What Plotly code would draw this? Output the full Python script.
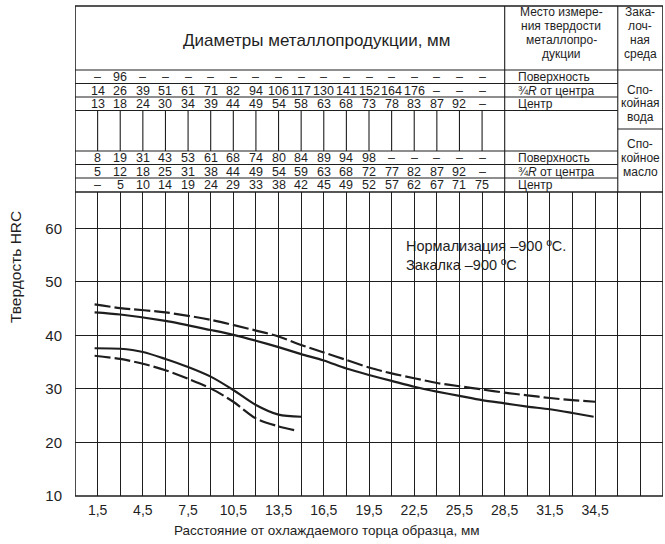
import plotly.graph_objects as go

# ---------------- data ----------------
# upper band (dashed = upper limit, solid = lower limit)
up_dash_x = [1.3, 3.0, 6.0, 9.0, 12.0, 13.5, 15.0, 16.5, 18.0, 19.5, 21.0, 22.5, 24.0, 25.5, 27.0, 28.5, 30.0, 31.5, 33.0, 34.5]
up_dash_y = [45.8, 45.1, 44.3, 42.9, 40.9, 39.8, 38.2, 36.8, 35.4, 34.0, 32.9, 32.0, 31.1, 30.5, 29.9, 29.3, 28.8, 28.3, 27.9, 27.6]
up_sol_x = [1.3, 3.0, 6.0, 9.0, 10.5, 12.0, 13.5, 15.0, 16.5, 18.0, 19.5, 21.0, 22.5, 24.0, 25.5, 27.0, 28.5, 30.0, 31.5, 33.0, 34.4]
up_sol_y = [44.3, 43.9, 42.7, 41.0, 40.1, 39.0, 37.8, 36.5, 35.3, 33.8, 32.6, 31.5, 30.4, 29.5, 28.7, 27.9, 27.3, 26.7, 26.2, 25.5, 24.8]
# lower band
lo_sol_x = [1.3, 3.0, 4.5, 6.0, 7.5, 9.0, 10.5, 12.0, 13.5, 15.0]
lo_sol_y = [37.6, 37.5, 36.9, 35.6, 34.1, 32.3, 29.8, 27.0, 25.2, 24.8]
lo_dash_x = [1.3, 3.0, 4.5, 6.0, 7.5, 9.0, 10.5, 12.0, 13.5, 14.7]
lo_dash_y = [36.2, 35.6, 34.7, 33.5, 31.9, 30.1, 27.6, 24.5, 23.0, 22.2]

# table of diameters (mm), one entry per 1.5 mm column
water_surface = ['–', '96'] + ['–'] * 16
water_34r = ['14', '26', '39', '51', '61', '71', '82', '94', '106', '117', '130', '141', '152', '164', '176', '–', '–', '–']
water_center = ['13', '18', '24', '30', '34', '39', '44', '49', '54', '58', '63', '68', '73', '78', '83', '87', '92', '–']
oil_surface = ['8', '19', '31', '43', '53', '61', '68', '74', '80', '84', '89', '94', '98', '–', '–', '–', '–', '–']
oil_34r = ['5', '12', '18', '25', '31', '38', '44', '49', '54', '59', '63', '68', '72', '77', '82', '87', '92', '–']
oil_center = ['–', '5', '10', '14', '19', '24', '29', '33', '38', '42', '45', '49', '52', '57', '62', '67', '71', '75']

place_labels = ['Поверхность', '¾<i>R</i> от центра', 'Центр']
place_header = ['Место измере-', 'ния твердости', 'металлопро-', 'дукции']
media_header = ['Зака-', 'лоч-', 'ная', 'среда']
media_water = ['Спо-', 'койная', 'вода']
media_oil = ['Спо-', 'койное', 'масло']
x_tick_vals = [i * 1.5 for i in range(27)]
x_tick_text = [(f"{v:.1f}".replace('.', ',') if (i % 2 == 1 and i <= 23) else '') for i, v in enumerate(x_tick_vals)]
y_tick_vals = [10, 20, 30, 40, 50, 60]

# ---------------- layout geometry (pixels) ----------------
W, H = 665, 544
ML, MR, MT, MB = 75, 2, 6, 48
Y0 = H - MB            # pixel y of paper 0
PH = H - MT - MB       # paper height in px
XMAX = 39.0


def P(ypx):
    return (Y0 - ypx) / PH


def X(xpx):
    return (xpx - ML) / (W - ML - MR) * XMAX


TOP = 6
HDR = 70
W_ROWS = [70, 83.5, 97, 110.5]
O_ROWS = [151, 164.5, 178, 192]
MEDIA_SPLIT = 129
PLOT_TOP = 192
PX_PER_HRC = 5.354
YMAX = 10 + (Y0 - PLOT_TOP) / PX_PER_HRC

X_PLACE = 28.5
X_MEDIA = 36.0

INK = '#1e1e1e'
FONT = 'Liberation Sans, Arial, sans-serif'

fig = go.Figure()
line_kw = dict(color=INK, width=2.2)
fig.add_trace(go.Scatter(x=up_dash_x, y=up_dash_y, mode='lines', line=dict(**line_kw, dash='16px,4px', shape='spline', smoothing=0.8)))
fig.add_trace(go.Scatter(x=up_sol_x, y=up_sol_y, mode='lines', line=dict(**line_kw, shape='spline', smoothing=0.8)))
fig.add_trace(go.Scatter(x=lo_sol_x, y=lo_sol_y, mode='lines', line=dict(**line_kw, shape='spline', smoothing=0.8)))
fig.add_trace(go.Scatter(x=lo_dash_x, y=lo_dash_y, mode='lines', line=dict(**line_kw, dash='16px,4px', shape='spline', smoothing=0.8)))

shapes = []
lw = 1.1
# white box for the note
shapes.append(dict(type='rect', xref='x', yref='y', x0=21.06, x1=35.94, y0=50.12, y1=59.88,
                   fillcolor='white', line=dict(width=0), layer='below'))
# horizontal table lines
shapes.append(dict(type='line', xref='x', yref='paper', x0=0, x1=XMAX, y0=P(HDR), y1=P(HDR), line=dict(color=INK, width=lw)))
for yy in W_ROWS[1:] + O_ROWS[:-1]:
    shapes.append(dict(type='line', xref='x', yref='paper', x0=0, x1=X_MEDIA, y0=P(yy), y1=P(yy), line=dict(color=INK, width=lw)))
shapes.append(dict(type='line', xref='x', yref='paper', x0=X_MEDIA, x1=XMAX, y0=P(MEDIA_SPLIT), y1=P(MEDIA_SPLIT), line=dict(color=INK, width=lw)))
shapes.append(dict(type='line', xref='x', yref='paper', x0=0, x1=XMAX, y0=P(PLOT_TOP), y1=P(PLOT_TOP), line=dict(color=INK, width=1.4)))
# vertical lines in the gap between the two blocks
for i in range(1, 19):
    xv = i * 1.5
    shapes.append(dict(type='line', xref='x', yref='paper', x0=xv, x1=xv, y0=P(O_ROWS[0]), y1=P(W_ROWS[-1]), line=dict(color=INK, width=lw)))
# column borders
for xv in (X_PLACE, X_MEDIA):
    shapes.append(dict(type='line', xref='x', yref='paper', x0=xv, x1=xv, y0=P(PLOT_TOP), y1=P(TOP), line=dict(color=INK, width=lw)))
# outer frame
shapes.append(dict(type='rect', xref='x', yref='paper', x0=0, x1=XMAX, y0=0, y1=1, line=dict(color=INK, width=1.6)))

ann = []


def txt(x, ypx, text, size=12, xanchor='center', xref='x'):
    ann.append(dict(x=x, y=P(ypx), xref=xref, yref='paper', text=text, showarrow=False,
                    font=dict(family=FONT, size=size, color=INK), xanchor=xanchor, yanchor='middle'))


row_bounds = [(W_ROWS[0], W_ROWS[1]), (W_ROWS[1], W_ROWS[2]), (W_ROWS[2], W_ROWS[3]),
              (O_ROWS[0], O_ROWS[1]), (O_ROWS[1], O_ROWS[2]), (O_ROWS[2], O_ROWS[3])]
row_vals = [water_surface, water_34r, water_center, oil_surface, oil_34r, oil_center]
for k, (vals, (ya, yb)) in enumerate(zip(row_vals, row_bounds)):
    yc = (ya + yb) / 2 + 0.5
    for i, t in enumerate(vals):
        txt((i + 1) * 1.5, yc, t, size=12.5)
    txt(29.25, yc, place_labels[k % 3], size=12, xanchor='left')

txt(X(316), 40, 'Диаметры металлопродукции, мм', size=17)
for j, yy in enumerate([11.5, 25.5, 39.5, 53.5]):
    txt((X_PLACE + X_MEDIA) / 2, yy, place_header[j], size=12)
    txt((X_MEDIA + XMAX) / 2, yy, media_header[j], size=12)
for j, yy in enumerate([89.5, 103, 116.5]):
    txt((X_MEDIA + XMAX) / 2, yy, media_water[j], size=12)
for j, yy in enumerate([144, 158, 171.5]):
    txt((X_MEDIA + XMAX) / 2, yy, media_oil[j], size=12)

ann.append(dict(x=21.8, y=55, xref='x', yref='y',
                text='Нормализация –900 ºС.<br>Закалка –900 ºС', showarrow=False, align='left',
                font=dict(family=FONT, size=14.5, color=INK), xanchor='left', yanchor='middle'))
ann.append(dict(x=X(327) / XMAX, y=P(530), xref='paper', yref='paper',
                text='Расстояние от охлаждаемого торца образца, мм', showarrow=False,
                font=dict(family=FONT, size=13.5, color=INK), xanchor='center', yanchor='middle'))
ann.append(dict(x=X(15) / XMAX, y=P(267), xref='paper', yref='paper',
                text='Твердость HRC', showarrow=False, textangle=-90,
                font=dict(family=FONT, size=15.5, color=INK), xanchor='center', yanchor='middle'))

fig.update_layout(
    width=W, height=H, margin=dict(l=ML, r=MR, t=MT, b=MB, autoexpand=False),
    paper_bgcolor='white', plot_bgcolor='white', showlegend=False,
    shapes=shapes, annotations=ann,
    xaxis=dict(range=[0, XMAX], tickvals=x_tick_vals, ticktext=x_tick_text, showgrid=True,
               gridcolor=INK, gridwidth=1, zeroline=False, showline=False, ticks='', automargin=False,
               tickfont=dict(family=FONT, size=14, color=INK), ticklabelstandoff=4, fixedrange=True),
    yaxis=dict(range=[10, YMAX], domain=[0, P(PLOT_TOP)], tickvals=y_tick_vals, showgrid=True,
               gridcolor=INK, gridwidth=1, zeroline=False, showline=False, ticks='', automargin=False,
               tickfont=dict(family=FONT, size=15, color=INK), ticklabelstandoff=12, fixedrange=True),
)

fig.write_html('out.html', config={'displayModeBar': False},
               post_script="document.body.style.margin='0';document.body.style.overflow='hidden';")
